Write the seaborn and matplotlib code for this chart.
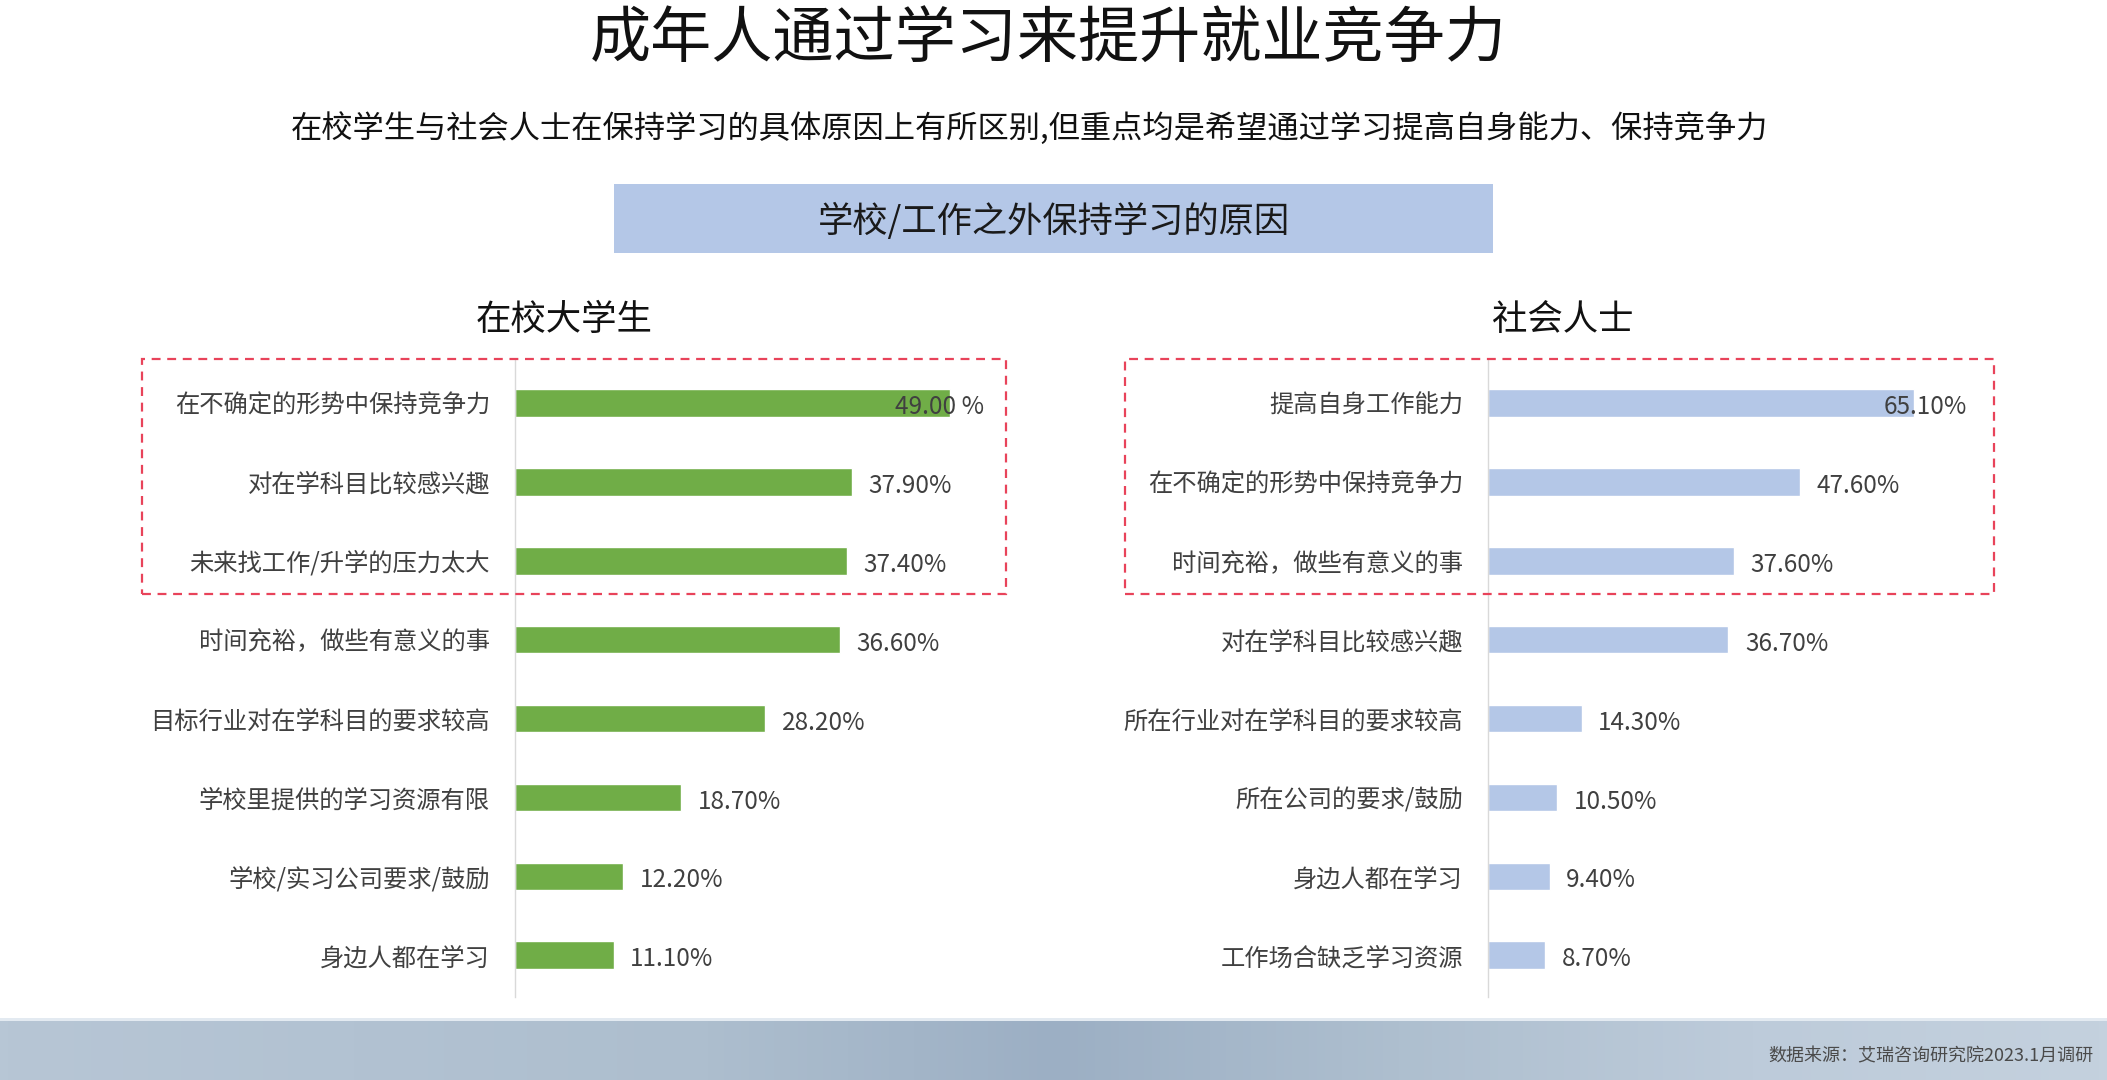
import numpy as np
import pandas as pd
import matplotlib
matplotlib.use("Agg")
import matplotlib.pyplot as plt
from matplotlib.patches import Rectangle
from matplotlib.colors import LinearSegmentedColormap
import seaborn as sns

# ---------------- data ----------------
student_categories = ["在不确定的形势中保持竞争力", "对在学科目比较感兴趣", "未来找工作/升学的压力太大",
                      "时间充裕，做些有意义的事", "目标行业对在学科目的要求较高", "学校里提供的学习资源有限",
                      "学校/实习公司要求/鼓励", "身边人都在学习"]
student_values = [49.0, 37.9, 37.4, 36.6, 28.2, 18.7, 12.2, 11.1]
student_labels = ["49.00 %", "37.90%", "37.40%", "36.60%", "28.20%", "18.70%", "12.20%", "11.10%"]

worker_categories = ["提高自身工作能力", "在不确定的形势中保持竞争力", "时间充裕，做些有意义的事",
                     "对在学科目比较感兴趣", "所在行业对在学科目的要求较高", "所在公司的要求/鼓励",
                     "身边人都在学习", "工作场合缺乏学习资源"]
worker_values = [65.1, 47.6, 37.6, 36.7, 14.3, 10.5, 9.4, 8.7]
worker_labels = ["65.10%", "47.60%", "37.60%", "36.70%", "14.30%", "10.50%", "9.40%", "8.70%"]

title = "成年人通过学习来提升就业竞争力"
subtitle = "在校学生与社会人士在保持学习的具体原因上有所区别,但重点均是希望通过学习提高自身能力、保持竞争力"
banner = "学校/工作之外保持学习的原因"
left_title = "在校大学生"
right_title = "社会人士"
source = "数据来源：艾瑞咨询研究院2023.1月调研"

# ---------------- style ----------------
sns.set_theme(style="white")
plt.rcParams['font.family'] = ['Noto Sans CJK SC', 'DejaVu Sans']

W, H = 2107, 1080
fig = plt.figure(figsize=(W / 100, H / 100), dpi=100)
fig.patch.set_facecolor("white")

GREEN = "#70AD47"
BLUE = "#B4C7E7"
LABEL_C = "#404040"


def px_rect(x0, y0, x1, y1):
    """pixel box (top-left origin) -> figure fraction [l, b, w, h]"""
    return [x0 / W, 1 - y1 / H, (x1 - x0) / W, (y1 - y0) / H]


def draw_panel(rect, cats, vals, labels, color, xmax, first_off):
    ax = fig.add_axes(rect)
    df = pd.DataFrame({"cat": cats, "val": vals})
    sns.barplot(data=df, x="val", y="cat", color=color, width=0.35,
                saturation=1, ax=ax, order=cats)
    ax.set_xlim(0, xmax)
    ax.set_ylim(7.53, -0.545)
    ax.set_xlabel("")
    ax.set_ylabel("")
    ax.set_xticks([])
    ax.tick_params(axis="y", length=0, pad=18, labelsize=17.5, labelcolor=LABEL_C)
    for s in ["top", "right", "bottom"]:
        ax.spines[s].set_visible(False)
    ax.spines["left"].set_color("#d9d9d9")
    ax.spines["left"].set_linewidth(1.0)
    ax.set_facecolor("none")
    for i, (bar, lab) in enumerate(zip(ax.containers[0], labels)):
        off = first_off if i == 0 else 12
        ax.annotate(lab, xy=(bar.get_width(), bar.get_y() + bar.get_height() / 2),
                    xytext=(off, -3), textcoords="offset points",
                    ha="left", va="center", fontsize=17.5, color=LABEL_C)
    return ax


draw_panel(px_rect(515, 360, 1006, 997), student_categories, student_values,
           student_labels, GREEN, 55.3, -40)
draw_panel(px_rect(1488, 360, 1994, 997), worker_categories, worker_values,
           worker_labels, BLUE, 77.3, -22)

# ---------------- titles ----------------
fig.text(1048 / W, 1 - 40 / H, title, ha="center", va="center", fontsize=44, color="#111111")
fig.text(1029 / W, 1 - 128 / H, subtitle, ha="center", va="center", fontsize=22.5, color="#111111")

fig.patches.append(Rectangle((614 / W, 1 - 253 / H), 879 / W, 69 / H, transform=fig.transFigure,
                             facecolor=BLUE, edgecolor="none", zorder=0))
fig.text(1053.5 / W, 1 - 221 / H, banner, ha="center", va="center", fontsize=25.4, color="#1a1a1a")

fig.text(564 / W, 1 - 320 / H, left_title, ha="center", va="center", fontsize=25.5, color="#111111")
fig.text(1563 / W, 1 - 320 / H, right_title, ha="center", va="center", fontsize=25.5, color="#111111")

# ---------------- dashed highlight boxes ----------------
for x0, x1 in [(142, 1006), (1125, 1994)]:
    fig.patches.append(Rectangle((x0 / W, 1 - 594 / H), (x1 - x0) / W, 235 / H,
                                 transform=fig.transFigure, facecolor="none",
                                 edgecolor="#E8435A", linewidth=1.6,
                                 linestyle=(0, (4, 3)), zorder=5))

# ---------------- bottom band ----------------
band_ax = fig.add_axes([0, 0, 1, 59 / H])
band_cmap = LinearSegmentedColormap.from_list(
    "band", ["#b7c6d5", "#b2c2d2", "#adbece", "#9cafc4", "#aebfcf", "#bdcbda", "#c4d1de"])
band_ax.imshow(np.linspace(0, 1, 256).reshape(1, -1), aspect="auto", cmap=band_cmap,
               extent=[0, 1, 0, 1])
band_ax.set_axis_off()
fig.patches.append(Rectangle((0, 59 / H), 1, 3 / H, transform=fig.transFigure,
                             facecolor="#e3eaf1", edgecolor="none", zorder=6))
fig.text(2093 / W, 1 - 1056 / H, source, ha="right", va="center", fontsize=13,
         color="#4a4a4a", fontstyle="italic")

fig.savefig("out.png", dpi=100, facecolor="white")
